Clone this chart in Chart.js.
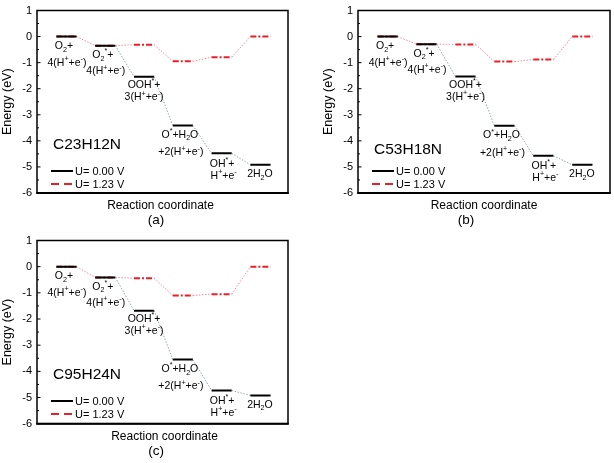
<!DOCTYPE html>
<html><head><meta charset="utf-8">
<script src="https://cdn.jsdelivr.net/npm/chart.js@4/dist/chart.umd.min.js"></script>
<style>
html,body{margin:0;padding:0;background:#fff;}
body{width:614px;height:463px;position:relative;overflow:hidden;}
canvas{position:absolute;display:block;}
</style></head><body>
<canvas id="ca" width="291" height="229" style="left:0;top:0"></canvas>
<canvas id="cb" width="293" height="229" style="left:321px;top:0"></canvas>
<canvas id="cc" width="291" height="233" style="left:0;top:230px"></canvas>
<script>
// ---------------- data ----------------
const steps = ['O2 + 4(H+ + e-)', 'O2* + 4(H+ + e-)', 'OOH* + 3(H+ + e-)', 'O* + H2O + 2(H+ + e-)', 'OH* + H+ + e-', '2H2O'];
// rich-text step labels: _x = subscript, ^x = superscript
const stepLabels = [
  ['O_2+', '4(H^++e^-)'],
  ['O_2^*+', '4(H^++e^-)'],
  ['OOH^*+', '3(H^++e^-)'],
  ['O^*+H_2O', '+2(H^++e^-)'],
  ['OH^*+', 'H^++e^-'],
  ['2H_2O']
];
const seriesNames = ['U= 0.00 V', 'U= 1.23 V'];
const systems = ['C23H12N', 'C53H18N', 'C95H24N'];
const panelTags = ['(a)', '(b)', '(c)'];
const yMin = -6, yMax = 1, yStep = 1;

const c23_U000 = [0, -0.35, -1.54, -3.41, -4.48, -4.92];
const c23_U123 = [0, -0.35, -0.31, -0.95, -0.79, 0];
const c53_U000 = [0, -0.29, -1.53, -3.42, -4.57, -4.92];
const c53_U123 = [0, -0.29, -0.30, -0.96, -0.88, 0];
const c95_U000 = [0, -0.41, -1.68, -3.55, -4.73, -4.92];
const c95_U123 = [0, -0.41, -0.44, -1.10, -1.05, 0];

// ---------------- style / layout ----------------
const FONT = '"Liberation Sans", Arial, Helvetica, sans-serif';
const LEVEL_X0 = 0.5, LEVEL_W = 0.52, X_MAX = 6.47;
// vertical offsets (px) of label lines below each level
const labelDy = [[9.7, 26.5], [9.5, 25.8], [8.3, 20.6], [9.7, 27], [10.5, 22.3], [9.7]];
const labelDx = [[-2.5, 0.5], [-2.5, 0.5], [0, 0], [-3, -2], [0.5, 2], [-0.5]];
const C_BLACK = '#000000', C_CONN0 = '#8ea9b3', C_RED = '#e8202a', C_CONN1 = '#f48a98';

function levelPoints(values) {
  const pts = [];
  values.forEach((v, i) => { pts.push({x: LEVEL_X0 + i, y: v}, {x: LEVEL_X0 + i + LEVEL_W, y: v}); });
  return pts;
}

function richText(ctx, str, cx, cy, size) {
  const runs = [];
  for (let i = 0; i < str.length; i++) {
    let c = str[i], t = 0;
    if ((c === '_' || c === '^') && i + 1 < str.length) { t = c === '_' ? -1 : 1; c = str[++i]; }
    runs.push({c, t});
  }
  const small = size * 0.68;
  let w = 0;
  runs.forEach(r => { ctx.font = (r.t ? small : size) + 'px ' + FONT; r.w = ctx.measureText(r.c).width; w += r.w; });
  let x = cx - w / 2;
  ctx.textAlign = 'left'; ctx.textBaseline = 'middle'; ctx.fillStyle = '#000';
  runs.forEach(r => {
    ctx.font = (r.t ? small : size) + 'px ' + FONT;
    const dy = r.t === -1 ? size * 0.32 : (r.t === 1 ? -size * 0.36 : 0);
    ctx.fillText(r.c, x, cy + dy);
    x += r.w;
  });
}

function line(ctx, x1, y1, x2, y2) { ctx.beginPath(); ctx.moveTo(x1, y1); ctx.lineTo(x2, y2); ctx.stroke(); }

function makeChart(id, u0, u123, name, tag, opt) {
  const isBar = c => c.p0DataIndex % 2 === 0;
  const overlap = c => {
    const l0 = (c.p0DataIndex - 1) / 2, l1 = l0 + 1;
    return u123[l0] === u0[l0] && u123[l1] === u0[l1];
  };
  const panelPlugin = {
    id: 'panel',
    afterDraw(chart) {
      const ctx = chart.ctx, ca = chart.chartArea, xs = chart.scales.x, ys = chart.scales.y;
      ctx.save();
      // frame
      ctx.strokeStyle = '#000'; ctx.lineWidth = 1.5;
      ctx.strokeRect(ca.left, ca.top, ca.right - ca.left, ca.bottom - ca.top);
      ctx.lineWidth = 2;
      line(ctx, ca.left - 0.75, ca.bottom, ca.right + 0.75, ca.bottom);
      // inward ticks
      ctx.lineWidth = 1;
      for (let v = ys.min; v <= ys.max + 1e-9; v += yStep / 2) {
        const y = ys.getPixelForValue(v);
        const major = Math.abs(v - Math.round(v)) < 1e-9;
        line(ctx, ca.left, y, ca.left + (major ? 3.5 : 2), y);
      }
      // step labels
      u0.forEach((v, i) => {
        const cx = xs.getPixelForValue(LEVEL_X0 + i + LEVEL_W / 2);
        const by = ys.getPixelForValue(v);
        stepLabels[i].forEach((s, k) => richText(ctx, s, cx + labelDx[i][k], by + labelDy[i][k], 10.5));
      });
      // system name
      ctx.fillStyle = '#000'; ctx.textAlign = 'left'; ctx.textBaseline = 'middle';
      ctx.font = '15.5px ' + FONT;
      ctx.fillText(name, ca.left + 16, ca.top + opt.nameDy);
      // legend
      const ds = chart.data.datasets;
      const lx1 = ca.left + 14, lx2 = ca.left + 36;
      [[ca.top + 160.5, C_BLACK, []], [ca.top + 173.5, C_RED, [8, 5]]].forEach((L, k) => {
        ctx.strokeStyle = L[1]; ctx.lineWidth = 2; ctx.setLineDash(L[2]);
        line(ctx, lx1, L[0], lx2, L[0]);
        ctx.setLineDash([]);
        ctx.font = '11px ' + FONT; ctx.fillStyle = '#000';
        ctx.fillText(ds[k].label, lx2 + 2, L[0] + 0.5);
      });
      // x title and panel tag
      ctx.textAlign = 'center';
      ctx.font = '12px ' + FONT;
      ctx.fillText('Reaction coordinate', (ca.left + ca.right) / 2 + opt.xtDx, ca.bottom + 12.5);
      ctx.font = '13.5px ' + FONT;
      ctx.fillText(tag, ca.left + opt.tagDx, ca.bottom + 27.5);
      ctx.restore();
    }
  };
  return new Chart(document.getElementById(id), {
    type: 'line',
    data: {datasets: [
      {label: seriesNames[0], data: levelPoints(u0), borderColor: C_BLACK, borderWidth: 2,
       pointRadius: 0, tension: 0, fill: false,
       segment: {
         borderColor: c => isBar(c) ? C_BLACK : (overlap(c) ? 'rgba(0,0,0,0)' : C_CONN0),
         borderWidth: c => isBar(c) ? 2 : 1,
         borderDash: c => isBar(c) ? [] : [1.5, 1.5]
       }},
      {label: seriesNames[1], data: levelPoints(u123), borderColor: C_RED, borderWidth: 2,
       pointRadius: 0, tension: 0, fill: false,
       segment: {
         borderColor: c => isBar(c) ? C_RED : C_CONN1,
         borderWidth: c => isBar(c) ? 2 : 1,
         borderDash: c => isBar(c) ? [6, 2, 2, 2] : [1.5, 1.5]
       }}
    ]},
    options: {
      responsive: false, animation: false, events: [],
      layout: {padding: {top: opt.padTop, right: opt.padRight, left: 0, bottom: 0}},
      plugins: {legend: {display: false}, tooltip: {enabled: false}},
      scales: {
        x: {type: 'linear', min: 0, max: X_MAX, ticks: {display: false},
            grid: {display: false}, border: {display: false},
            afterFit: s => { s.height = opt.xHeight; }},
        y: {type: 'linear', min: yMin, max: yMax,
            ticks: {stepSize: yStep, color: '#000', padding: 5, font: {family: FONT, size: 11, lineHeight: 1}},
            grid: {display: false, drawTicks: false}, border: {display: false},
            title: {display: true, text: 'Energy (eV)', color: '#000', padding: 0,
                    font: {family: FONT, size: 12.5, lineHeight: 1.2}},
            afterFit: s => { s.width = 37; }}
      }
    },
    plugins: [panelPlugin]
  });
}

makeChart('ca', c23_U000, c23_U123, systems[0], panelTags[0], {padTop: 6, padRight: 3, xHeight: 36, nameDy: 134, tagDx: 119, xtDx: -2});
makeChart('cb', c53_U000, c53_U123, systems[1], panelTags[1], {padTop: 6, padRight: 4, xHeight: 36, nameDy: 139.5, tagDx: 108, xtDx: 0});
makeChart('cc', c95_U000, c95_U123, systems[2], panelTags[2], {padTop: 6.7, padRight: 3, xHeight: 39.3, nameDy: 134, tagDx: 119, xtDx: 2});
</script>
</body></html>
